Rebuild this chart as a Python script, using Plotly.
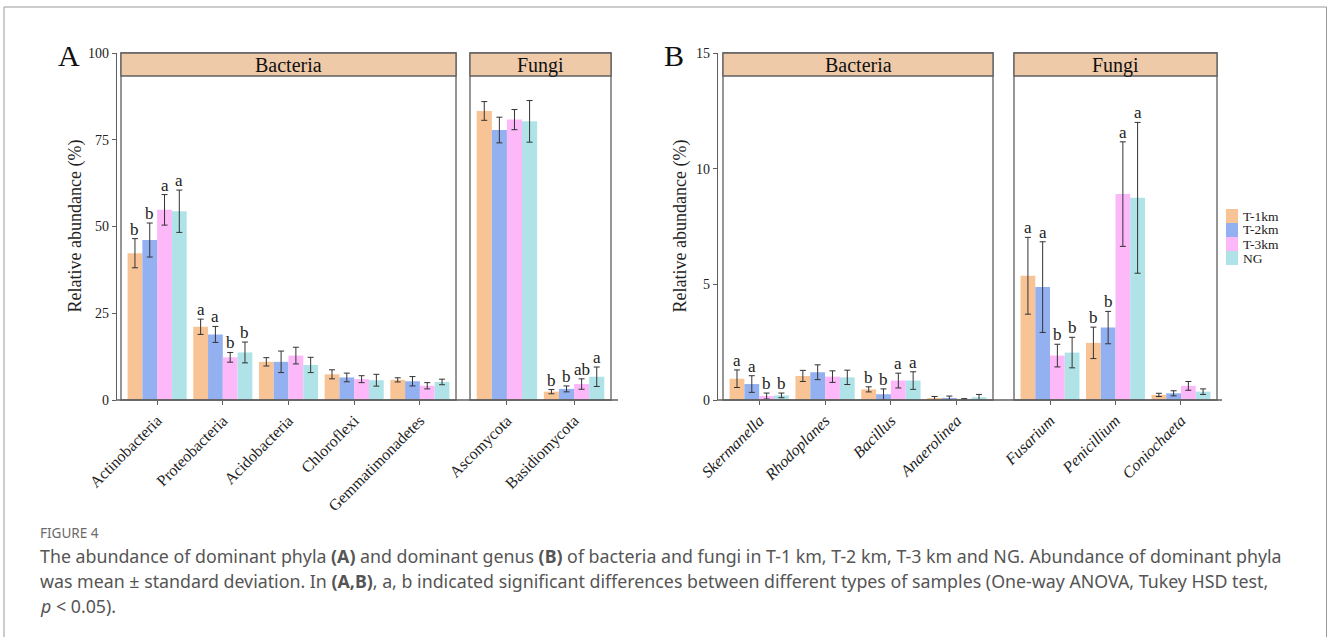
import plotly.graph_objects as go

# ---------------- data ----------------
series = ["T-1km", "T-2km", "T-3km", "NG"]
colors = ["#F8C496", "#93B1F0", "#FCB8F8", "#B0E3E7"]

# Panel A - Bacteria (phyla)
a_bac_cats = ["Actinobacteria", "Proteobacteria", "Acidobacteria", "Chloroflexi", "Gemmatimonadetes"]
a_bac_t1 = [42.3, 21.1, 11.0, 7.4, 5.8]
a_bac_t2 = [46.1, 18.9, 11.0, 6.5, 5.4]
a_bac_t3 = [54.8, 12.3, 12.8, 6.0, 4.1]
a_bac_ng = [54.4, 13.7, 10.1, 5.7, 5.2]
a_bac_t1_sd = [4.2, 2.2, 1.2, 1.3, 0.6]
a_bac_t2_sd = [4.9, 2.3, 3.1, 1.25, 1.35]
a_bac_t3_sd = [4.4, 1.4, 2.4, 1.0, 0.9]
a_bac_ng_sd = [6.1, 3.0, 2.2, 1.7, 0.8]
a_bac_t1_sig = ["b", "a", "", "", ""]
a_bac_t2_sig = ["b", "a", "", "", ""]
a_bac_t3_sig = ["a", "b", "", "", ""]
a_bac_ng_sig = ["a", "b", "", "", ""]

# Panel A - Fungi (phyla)
a_fun_cats = ["Ascomycota", "Basidiomycota"]
a_fun_t1 = [83.3, 2.4]
a_fun_t2 = [77.8, 3.2]
a_fun_t3 = [80.8, 4.6]
a_fun_ng = [80.3, 6.7]
a_fun_t1_sd = [2.7, 0.6]
a_fun_t2_sd = [3.7, 0.85]
a_fun_t3_sd = [2.9, 1.5]
a_fun_ng_sd = [6.0, 2.8]
a_fun_t1_sig = ["", "b"]
a_fun_t2_sig = ["", "b"]
a_fun_t3_sig = ["", "ab"]
a_fun_ng_sig = ["", "a"]

# Panel B - Bacteria (genera)
b_bac_cats = ["Skermanella", "Rhodoplanes", "Bacillus", "Anaerolinea"]
b_bac_t1 = [0.92, 1.04, 0.46, 0.07]
b_bac_t2 = [0.69, 1.20, 0.25, 0.09]
b_bac_t3 = [0.17, 1.01, 0.84, 0.03]
b_bac_ng = [0.20, 0.98, 0.84, 0.12]
b_bac_t1_sd = [0.38, 0.24, 0.11, 0.08]
b_bac_t2_sd = [0.36, 0.32, 0.23, 0.08]
b_bac_t3_sd = [0.13, 0.25, 0.32, 0.03]
b_bac_ng_sd = [0.10, 0.31, 0.38, 0.12]
b_bac_t1_sig = ["a", "", "b", ""]
b_bac_t2_sig = ["a", "", "b", ""]
b_bac_t3_sig = ["b", "", "a", ""]
b_bac_ng_sig = ["b", "", "a", ""]

# Panel B - Fungi (genera)
b_fun_cats = ["Fusarium", "Penicillium", "Coniochaeta"]
b_fun_t1 = [5.37, 2.47, 0.22]
b_fun_t2 = [4.88, 3.13, 0.29]
b_fun_t3 = [1.92, 8.90, 0.61]
b_fun_ng = [2.05, 8.74, 0.36]
b_fun_t1_sd = [1.66, 0.68, 0.07]
b_fun_t2_sd = [1.96, 0.70, 0.11]
b_fun_t3_sd = [0.49, 2.26, 0.19]
b_fun_ng_sd = [0.66, 3.26, 0.12]
b_fun_t1_sig = ["a", "b", ""]
b_fun_t2_sig = ["a", "b", ""]
b_fun_t3_sig = ["b", "a", ""]
b_fun_ng_sig = ["b", "a", ""]

a_yticks = [0, 25, 50, 75, 100]
b_yticks = [0, 5, 10, 15]

# ---------------- layout helpers ----------------
W, H = 1328, 637
def px(x):
    return x / W
def py(y):
    return 1 - y / H

SERIF = "Liberation Serif, Times New Roman, serif"
SANS = "Noto Sans, Open Sans, sans-serif"
BORDER = "#5f5f5f"
STRIP = "#EECAA9"
PAD = 0.55
BARGAP = 0.1

panels = [
    ("x", "y", 121, 456, a_bac_cats,
     [a_bac_t1, a_bac_t2, a_bac_t3, a_bac_ng],
     [a_bac_t1_sd, a_bac_t2_sd, a_bac_t3_sd, a_bac_ng_sd],
     [a_bac_t1_sig, a_bac_t2_sig, a_bac_t3_sig, a_bac_ng_sig], "Bacteria", False),
    ("x2", "y2", 470, 611, a_fun_cats,
     [a_fun_t1, a_fun_t2, a_fun_t3, a_fun_ng],
     [a_fun_t1_sd, a_fun_t2_sd, a_fun_t3_sd, a_fun_ng_sd],
     [a_fun_t1_sig, a_fun_t2_sig, a_fun_t3_sig, a_fun_ng_sig], "Fungi", False),
    ("x3", "y3", 723, 993, b_bac_cats,
     [b_bac_t1, b_bac_t2, b_bac_t3, b_bac_ng],
     [b_bac_t1_sd, b_bac_t2_sd, b_bac_t3_sd, b_bac_ng_sd],
     [b_bac_t1_sig, b_bac_t2_sig, b_bac_t3_sig, b_bac_ng_sig], "Bacteria", True),
    ("x4", "y4", 1014, 1217, b_fun_cats,
     [b_fun_t1, b_fun_t2, b_fun_t3, b_fun_ng],
     [b_fun_t1_sd, b_fun_t2_sd, b_fun_t3_sd, b_fun_ng_sd],
     [b_fun_t1_sig, b_fun_t2_sig, b_fun_t3_sig, b_fun_ng_sig], "Fungi", True),
]

TOP, BOT, STRIP_BOT = 53, 400, 76

fig = go.Figure()
layout = dict(
    width=W, height=H,
    margin=dict(l=0, r=0, t=0, b=0, pad=0, autoexpand=False),
    paper_bgcolor="white", plot_bgcolor="white",
    barmode="group", bargap=BARGAP, bargroupgap=0,
    showlegend=False,
    font=dict(family=SERIF, color="#222"),
)
shapes = []
annotations = []

for (xa, ya, x0, x1, cats, means, sds, sigs, strip, italic) in panels:
    n = len(cats)
    for i, s in enumerate(series):
        fig.add_trace(go.Bar(
            x=cats, y=means[i], name=s, marker=dict(color=colors[i], line=dict(width=0)),
            error_y=dict(type="data", array=sds[i], visible=True, color="#333",
                         thickness=1, width=3),
            xaxis=xa, yaxis=ya, showlegend=False,
        ))
    ppu = (x1 - x0) / (n - 1 + 2 * PAD)
    bw = (1 - BARGAP) / 4 * ppu
    for i in range(4):
        for j, c in enumerate(cats):
            if sigs[i][j]:
                annotations.append(dict(
                    x=c, y=means[i][j] + sds[i][j], xref=xa, yref=ya,
                    xshift=(i - 1.5) * bw, yshift=-2, text=sigs[i][j], showarrow=False,
                    xanchor="center", yanchor="bottom",
                    font=dict(family=SERIF, size=17, color="#222")))
    key_x = "xaxis" if xa == "x" else "xaxis" + xa[1:]
    ticktext = ["<i>%s</i>" % c for c in cats] if italic else cats
    layout[key_x] = dict(
        domain=[px(x0), px(x1)], anchor=ya, range=[-PAD, n - 1 + PAD],
        type="category", tickmode="array", tickvals=cats, ticktext=ticktext,
        tickangle=-45, ticks="outside", ticklen=4, tickcolor=BORDER,
        showline=False, showgrid=False, zeroline=False, automargin=False,
        tickfont=dict(family=SERIF, size=16, color="#222"), fixedrange=True,
    )
    shapes.append(dict(type="rect", xref="paper", yref="paper",
                       x0=px(x0), x1=px(x1), y0=py(BOT), y1=py(TOP),
                       line=dict(color=BORDER, width=1.3), fillcolor="rgba(0,0,0,0)", layer="above"))
    shapes.append(dict(type="rect", xref="paper", yref="paper",
                       x0=px(x0), x1=px(x1), y0=py(STRIP_BOT), y1=py(TOP),
                       line=dict(color=BORDER, width=1.3), fillcolor=STRIP, layer="above"))
    annotations.append(dict(x=px((x0 + x1) / 2), y=py((TOP + STRIP_BOT) / 2 + 1), xref="paper", yref="paper",
                            text=strip, showarrow=False, xanchor="center", yanchor="middle",
                            font=dict(family=SERIF, size=20, color="#111")))

ydom = [py(BOT), py(TOP)]
layout["yaxis"] = dict(domain=ydom, anchor="free", position=px(116), range=[0, 100],
                       tickmode="array", tickvals=a_yticks, ticks="outside", ticklen=4,
                       tickcolor=BORDER, showline=True, linecolor=BORDER, linewidth=1.3,
                       showgrid=False, zeroline=False, automargin=False,
                       tickfont=dict(family=SERIF, size=14, color="#222"))
layout["yaxis2"] = dict(domain=ydom, anchor="x2", matches="y", visible=False, range=[0, 100],
                        automargin=False)
layout["yaxis3"] = dict(domain=ydom, anchor="free", position=px(717), range=[0, 15],
                        tickmode="array", tickvals=b_yticks, ticks="outside", ticklen=4,
                        tickcolor=BORDER, showline=True, linecolor=BORDER, linewidth=1.3,
                        showgrid=False, zeroline=False, automargin=False,
                        tickfont=dict(family=SERIF, size=14, color="#222"))
layout["yaxis4"] = dict(domain=ydom, anchor="x4", matches="y3", visible=False, range=[0, 15],
                        automargin=False)

shapes.append(dict(type="line", xref="paper", yref="paper", x0=px(116), x1=px(618),
                   y0=py(BOT), y1=py(BOT), line=dict(color=BORDER, width=1.3)))
shapes.append(dict(type="line", xref="paper", yref="paper", x0=px(717), x1=px(1222),
                   y0=py(BOT), y1=py(BOT), line=dict(color=BORDER, width=1.3)))

# outer frame
shapes.append(dict(type="rect", xref="paper", yref="paper", x0=px(4), x1=px(1326.5),
                   y0=py(660), y1=py(7), line=dict(color="#9a9a9a", width=1),
                   fillcolor="rgba(0,0,0,0)"))

for xc in (75, 680):
    annotations.append(dict(x=px(xc), y=py((TOP + BOT) / 2), xref="paper", yref="paper",
                            text="Relative abundance (%)", textangle=-90, showarrow=False,
                            xanchor="center", yanchor="middle",
                            font=dict(family=SERIF, size=18, color="#222")))
annotations.append(dict(x=px(69), y=py(55), xref="paper", yref="paper", text="A",
                        showarrow=False, xanchor="center", yanchor="middle",
                        font=dict(family=SERIF, size=30, color="#111")))
annotations.append(dict(x=px(674), y=py(55), xref="paper", yref="paper", text="B",
                        showarrow=False, xanchor="center", yanchor="middle",
                        font=dict(family=SERIF, size=30, color="#111")))

for i, s in enumerate(series):
    top = 209 + i * 14
    shapes.append(dict(type="rect", xref="paper", yref="paper", x0=px(1226), x1=px(1238),
                       y0=py(top + 14), y1=py(top), fillcolor=colors[i], line=dict(width=0)))
    annotations.append(dict(x=px(1241), y=py(top + 7), xref="paper", yref="paper", text=s,
                            showarrow=False, xanchor="left", yanchor="middle",
                            font=dict(family=SERIF, size=13.5, color="#222")))

annotations.append(dict(x=px(38), y=py(533), xref="paper", yref="paper", text="FIGURE 4",
                        showarrow=False, xanchor="left", yanchor="middle",
                        font=dict(family=SANS, size=13.5, color="#6a6a6a")))
cap_lines = [
    "The abundance of dominant phyla <b>(A)</b> and dominant genus <b>(B)</b> of bacteria and fungi in T-1 km, T-2 km, T-3 km and NG. Abundance of dominant phyla",
    "was mean ± standard deviation. In <b>(A,B)</b>, a, b indicated significant differences between different types of samples (One-way ANOVA, Tukey HSD test,",
    "<i>p</i> &lt; 0.05).",
]
for k, t in enumerate(cap_lines):
    annotations.append(dict(x=px(38), y=py(556 + 25 * k), xref="paper", yref="paper", text=t,
                            showarrow=False, xanchor="left", yanchor="middle",
                            font=dict(family=SANS, size=17.8, color="#555")))

layout["shapes"] = shapes
layout["annotations"] = annotations
fig.update_layout(**layout)
fig.write_html("out.html")
